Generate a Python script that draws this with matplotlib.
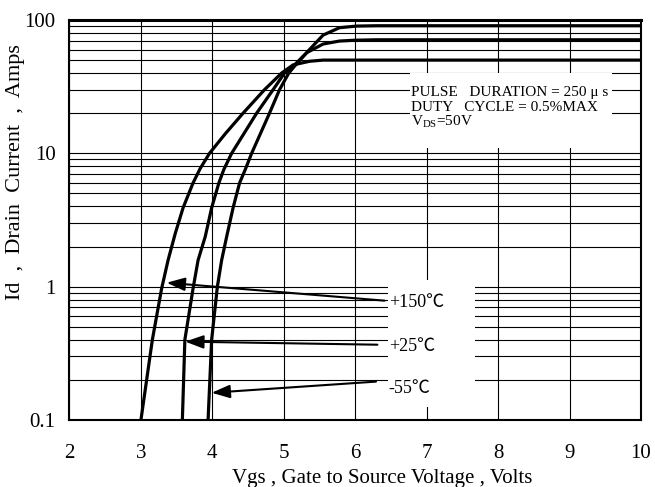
import matplotlib
matplotlib.use("Agg")
import matplotlib.pyplot as plt
from matplotlib.patches import Rectangle

plt.rcParams['font.family'] = ['Liberation Serif', 'Noto Sans CJK SC', 'DejaVu Sans']
plt.rcParams['mathtext.fontset'] = 'custom'
plt.rcParams['mathtext.rm'] = 'Liberation Serif'

# transfer characteristics
vgs_150 = [3.00, 3.08, 3.16, 3.29, 3.38, 3.48, 3.59, 3.73, 3.83, 3.96, 4.18, 4.43, 4.73, 4.97, 5.13, 5.36, 5.55, 6.00, 10.0]
id_150 = [0.1, 0.2, 0.4, 0.97, 1.58, 2.5, 3.9, 6.0, 7.7, 10, 14, 20, 30, 40, 46, 49, 50, 50, 50]

vgs_25 = [3.58, 3.615, 3.73, 3.80, 3.90, 3.99, 4.09, 4.16, 4.27, 4.62, 4.85, 5.01, 5.15, 5.32, 5.55, 5.78, 6.00, 6.30, 10.0]
id_25 = [0.1, 0.4, 0.97, 1.58, 2.37, 3.9, 5.97, 7.55, 10, 20, 30, 40, 46, 56.8, 66, 69.5, 70.5, 71, 71]

vgs_m55 = [3.94, 3.99, 4.07, 4.13, 4.20, 4.29, 4.38, 4.46, 4.55, 4.80, 4.94, 5.07, 5.15, 5.36, 5.55, 5.78, 6.02, 6.30, 10.0]
id_m55 = [0.1, 0.4, 1.0, 1.58, 2.37, 3.9, 5.97, 7.55, 10, 20, 30, 40, 45, 60, 77, 87.5, 90, 90.5, 90.5]

x_ticks = [2, 3, 4, 5, 6, 7, 8, 9, 10]
y_ticks = [0.1, 1, 10, 100]
y_tick_labels = ['0.1', '1', '10', '100']

temp_labels = ['+150\u2103', '+25\u2103', '-55\u2103']
label_pos = [(6.47, 0.76), (6.47, 0.355), (6.47, 0.172)]
arrow_tail = [(6.41, 0.785), (6.31, 0.367), (6.29, 0.194)]
arrow_tip = [(3.36, 1.07), (3.62, 0.387), (3.99, 0.160)]

fig = plt.figure(figsize=(6.55, 4.87), dpi=100)
ax = fig.add_axes([0.1061, 0.1376, 0.8725, 0.8214])

ax.set_yscale('log')
ax.set_xlim(2, 10)
ax.set_ylim(0.1, 100)

ax.set_xticks(x_ticks)
ax.set_xticklabels([str(v) for v in x_ticks])
ax.set_yticks(y_ticks)
ax.set_yticklabels(y_tick_labels)
ax.tick_params(axis='both', which='both', length=0, labelsize=15)
ax.tick_params(axis='x', pad=17)
ax.tick_params(axis='y', pad=10)

ax.grid(True, which='major', axis='x', color='black', linewidth=0.8)
ax.grid(True, which='both', axis='y', color='black', linewidth=0.8)
ax.set_axisbelow(True)
for sp in ax.spines.values():
    sp.set_linewidth(1.5)
ax.spines['top'].set_linewidth(2.2)

# white areas behind the notes
ax.add_patch(Rectangle((0.596, 0.68), 0.353, 0.1875, transform=ax.transAxes,
                       facecolor='white', edgecolor='none', zorder=1.5))
ax.add_patch(Rectangle((0.557, 0.0325), 0.153, 0.3175, transform=ax.transAxes,
                       facecolor='white', edgecolor='none', zorder=1.5))

for xs, ys in [(vgs_150, id_150), (vgs_25, id_25), (vgs_m55, id_m55)]:
    ax.plot(xs, ys, color='black', linewidth=2.3, zorder=3,
            solid_joinstyle='round', solid_capstyle='butt')

for lab, pos, tail, tip in zip(temp_labels, label_pos, arrow_tail, arrow_tip):
    ax.annotate('', xy=tip, xytext=tail,
                arrowprops=dict(arrowstyle='-|>,head_length=1.1,head_width=0.4',
                                color='black', linewidth=1.5, shrinkA=0, shrinkB=0),
                zorder=4)
    ax.text(pos[0], pos[1], lab, fontsize=13, va='center', ha='left', zorder=4)

ax.text(6.78, 28.5, 'PULSE   DURATION = 250 \u03bc s', fontsize=11, va='center', zorder=4)
ax.text(6.78, 22, 'DUTY   CYCLE = 0.5%MAX', fontsize=11, va='center', zorder=4)
ax.text(6.78, 17.2, 'V$_{\\mathrm{DS}}$=50V', fontsize=11, va='center', zorder=4)

fig.text(382 / 655, 1 - 478 / 487, 'Vgs , Gate to Source Voltage , Volts',
         fontsize=15, ha='center', va='center')
fig.text(16 / 655, 1 - 172 / 487, 'Id  ,  Drain  Current  ,  Amps',
         fontsize=16, ha='center', va='center', rotation=90)

fig.savefig('out.png', dpi=100)
